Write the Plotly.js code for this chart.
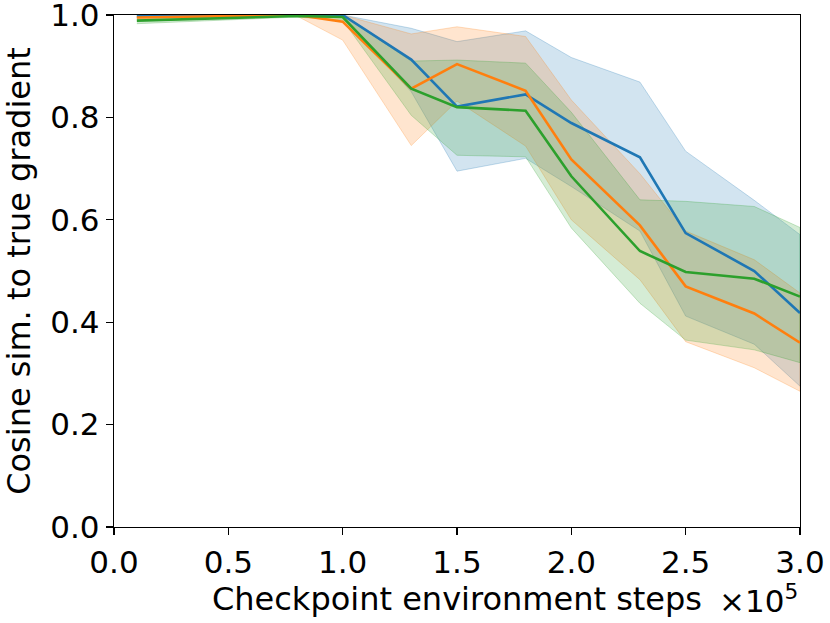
<!DOCTYPE html>
<html>
<head>
<meta charset="utf-8">
<script src="https://cdn.plot.ly/plotly-3.0.1.min.js"></script>
<style>
  body { margin: 0; background: #fff; }
  #myDiv { width: 830px; height: 623px; }
</style>
</head>
<body>
<div id="myDiv"></div>
<script>
// checkpoint steps (x 1e5)
var steps = [0.1, 0.8, 1.0, 1.3, 1.5, 1.8, 2.0, 2.3, 2.5, 2.8, 3.0];

var blueMean  = [0.998, 1.000, 1.000, 0.913, 0.821, 0.845, 0.789, 0.722, 0.574, 0.500, 0.418];
var blueUpper = [1.000, 1.000, 1.000, 0.974, 0.948, 0.969, 0.917, 0.869, 0.734, 0.638, 0.571];
var blueLower = [0.995, 0.999, 0.995, 0.850, 0.695, 0.720, 0.665, 0.578, 0.412, 0.357, 0.275];

var orangeMean  = [0.995, 1.000, 0.987, 0.856, 0.904, 0.852, 0.718, 0.589, 0.470, 0.417, 0.360];
var orangeUpper = [1.000, 1.000, 1.000, 0.963, 0.977, 0.958, 0.834, 0.690, 0.578, 0.522, 0.457];
var orangeLower = [0.990, 0.998, 0.951, 0.745, 0.832, 0.744, 0.600, 0.483, 0.362, 0.311, 0.265];

var greenMean  = [0.989, 0.998, 0.996, 0.856, 0.820, 0.813, 0.685, 0.539, 0.498, 0.485, 0.450];
var greenUpper = [0.995, 1.000, 1.000, 0.910, 0.912, 0.906, 0.810, 0.639, 0.636, 0.626, 0.585];
var greenLower = [0.983, 0.996, 0.990, 0.804, 0.726, 0.723, 0.584, 0.437, 0.365, 0.346, 0.321];

var xTicks = [0, 0.5, 1.0, 1.5, 2.0, 2.5, 3.0];
var yTicks = [0, 0.2, 0.4, 0.6, 0.8, 1.0];

function band(lo, hi, rgb) {
  return {
    x: steps.concat(steps.slice().reverse()),
    y: hi.concat(lo.slice().reverse()),
    type: 'scatter',
    mode: 'lines',
    fill: 'toself',
    fillcolor: 'rgba(' + rgb + ',0.2)',
    line: {color: 'rgba(' + rgb + ',0.25)', width: 1},
    hoverinfo: 'skip',
    showlegend: false
  };
}

function line(y, color) {
  return {
    x: steps,
    y: y,
    type: 'scatter',
    mode: 'lines',
    line: {color: color, width: 2.6},
    showlegend: false
  };
}

data = [
  band(blueLower, blueUpper, '31,119,180'),
  band(orangeLower, orangeUpper, '255,127,14'),
  band(greenLower, greenUpper, '44,160,44'),
  line(blueMean, '#1f77b4'),
  line(orangeMean, '#ff7f0e'),
  line(greenMean, '#2ca02c')
];

layout = {
  width: 830,
  height: 623,
  margin: {l: 114, r: 30, t: 15, b: 96},
  paper_bgcolor: '#fff',
  plot_bgcolor: '#fff',
  font: {family: 'DejaVu Sans', size: 31, color: '#000'},
  xaxis: {
    range: [0, 3],
    tickvals: xTicks,
    tickformat: '.1f',
    ticklabeloverflow: 'allow',
    ticks: 'outside',
    ticklen: 7,
    tickwidth: 1.3,
    tickcolor: '#000',
    showline: true,
    linecolor: '#000',
    linewidth: 1.3,
    mirror: true,
    showgrid: false,
    zeroline: false,
    title: {text: 'Checkpoint environment steps', font: {size: 32}, standoff: 2}
  },
  yaxis: {
    range: [0, 1],
    tickvals: yTicks,
    tickformat: '.1f',
    ticklabeloverflow: 'allow',
    ticks: 'outside',
    ticklen: 7,
    tickwidth: 1.3,
    tickcolor: '#000',
    showline: true,
    linecolor: '#000',
    linewidth: 1.3,
    mirror: true,
    showgrid: false,
    zeroline: false,
    title: {text: 'Cosine sim. to true gradient', font: {size: 32}, standoff: 10}
  },
  annotations: [{
    text: '×10<sup>5</sup>',
    xref: 'paper', yref: 'paper',
    x: 1.0, y: -0.14,
    xanchor: 'right', yanchor: 'middle',
    showarrow: false,
    font: {size: 31}
  }]
};

Plotly.newPlot('myDiv', data, layout, {staticPlot: true});
</script>
</body>
</html>
